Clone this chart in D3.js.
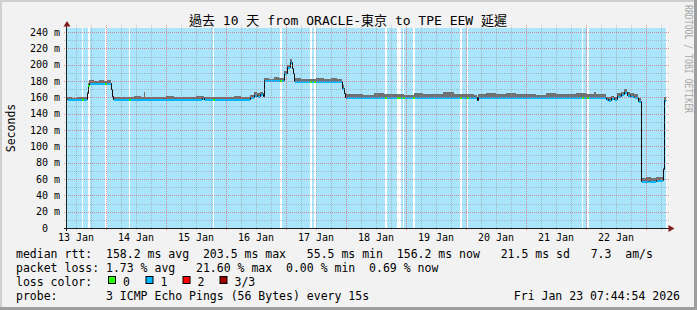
<!DOCTYPE html>
<html><head><meta charset="utf-8">
<script src="https://cdn.jsdelivr.net/npm/d3@7"></script>
<style>
html,body{margin:0;padding:0;background:#f2f2f2;}
svg{display:block;}
text{font-family:"DejaVu Sans Mono","Noto Sans CJK TC",monospace;fill:#000;white-space:pre;}
</style></head><body>
<svg id="c" width="697" height="310"></svg>
<script>
// ---------------- data ----------------
const title = "過去 10 天 from ORACLE-東京 to TPE EEW 延遲";
const yLabel = "Seconds";
const sideText = "RRDTOOL / TOBI OETIKER";
// hours since 2026-01-13 00:00
const startHour = 8.4, endHour = 248.4, dataEndHour = 248.0;
const yMax = 245;
const yTickValues = [0,20,40,60,80,100,120,140,160,180,200,220,240];
const dayLabels = ["13 Jan","14 Jan","15 Jan","16 Jan","17 Jan","18 Jan","19 Jan","20 Jan","21 Jan","22 Jan"];

// median rtt (ms), step series [hour, value]
const medianSteps = [
 [8.4,157.5],[16.2,165],[16.6,175],[17.0,177.5],[26.0,170],[26.4,162],[26.8,158],
 [62.4,159],[63.2,157.5],[81.6,160],[83.2,163],[84.4,162],[85.6,164],[86.8,162],[87.3,181],
 [95.2,190],[96.3,197],[97.6,203.5],[98.3,196],[98.9,190],[99.3,180],
 [118.5,172],[119.0,165],[119.6,161],[172.3,157],[172.7,161],
 [224.0,158],[224.8,157],[226.0,159],[227.2,158],[228.4,162],[230.0,164],[231.2,166],[232.4,163],
 [233.6,162],[235.2,161],[236.9,156],[238.0,58],[241.0,57.5],[244.0,58.5],[246.8,72],[247.3,156.2],[248.0,156.2]
];
// top of the smoke (max ping rtt), step series [hour, value]
const smokeTop = [
 [8.4,160],[10.5,159.5],[12.5,161],[14.3,160],[16.2,167],[16.6,178],[17.0,181],
 [19,180.5],[21,181.5],[23,180],[24.3,181],[26.0,172],[26.4,164],[26.8,160.5],
 [29,161],[32,160],[35,161.5],[38,160],[39.2,166],[39.6,160.5],[42,161],[45,160],[48,161.5],
 [51,160.5],[54,161],[57,160],[60,161.5],[62.4,162],[63.2,160.5],[66,160],[69,161],[72,160.5],
 [75,161.5],[78,160],[81.6,163],[83.2,166],[84.4,165],[85.6,167],[86.8,165],
 [87.3,184],[89,183],[91,184.5],[93,183.5],[95.2,192],[96.3,200],[97.6,207],[98.3,199],[98.9,193],[99.3,183.5],
 [102,183],[105,182.5],[108,184],[111,183],[114,183.5],[116.5,182.5],[118.5,175],[119.0,167],[119.6,164],
 [123,164.5],[127,163.5],[131,165],[135,164],[139,164.5],[143,163.5],[147,165],[151,164],[155,164.5],
 [159,166],[163,164],[167,164.5],[171,163.5],[172.3,160],[172.7,164],[176,165],[180,164],[184,165.5],
 [188,164],[192,164.5],[196,163.5],[200,165],[204,164],[208,164.5],[212,165],[216,164],[219.2,166.5],[220,164.5],
 [224.0,161],[224.8,160],[226.0,162],[227.2,161],[228.4,165],[230.0,167],[231.2,170],[232.4,167],[233.6,165],
 [235.2,164],[236.9,159],[238.0,61],[240,62],[242,61],[244,62],[246.8,74],[247.3,160],[248.0,160]
];
// periods with 0 packet loss [fromHour, toHour]
const zeroLoss = [
 [14.28,14.92],[16.92,17.6],[23.72,24.28],[33.08,33.6],[66.68,67.2],[93.6,94.4],[105.6,106.52],
 [107.32,107.88],[135.6,136.28],[140.28,141.08],[141.32,141.88],[142.68,143.2],[146.92,147.48],
 [165.6,166.28],[168.28,168.8],[214.28,214.92],[216.52,217.08]
];
const lossColors = [["0","#26ff00"],["1","#00b8ff"],["2","#ff0000"],["3/3","#a00000"]];
const rttLine  = "median rtt:  158.2 ms avg  203.5 ms max   55.5 ms min  156.2 ms now   21.5 ms sd   7.3  am/s";
const lossLine = "packet loss: 1.73 % avg   21.60 % max  0.00 % min  0.69 % now";
const lossColorLabel = "loss color:";
const probeLine = "probe:       3 ICMP Echo Pings (56 Bytes) every 15s";
const stamp = "Fri Jan 23 07:44:54 2026";

// ---------------- drawing ----------------
const W=697,H=310,L=67,R=667,T=28,B=228;
const BASE = Date.UTC(2026,0,13);
const toDate = h => new Date(BASE + h*3600e3);
const svg = d3.select("#c");
const x = d3.scaleUtc().domain([toDate(startHour),toDate(endHour)]).range([L,R]);
const y = d3.scaleLinear().domain([0,yMax]).range([B,T]);
const px = v => Math.round(v)+0.5;
const ry = v => Math.round(y(v));

svg.append("rect").attr("width",W).attr("height",H).attr("fill","#f2f2f2");
svg.append("rect").attr("x",0).attr("y",0).attr("width",W).attr("height",2).attr("fill","#cfcfcf");
svg.append("rect").attr("x",0).attr("y",0).attr("width",2).attr("height",H).attr("fill","#cfcfcf");
svg.append("rect").attr("x",W-3).attr("y",0).attr("width",3).attr("height",H).attr("fill","#9e9e9e");
svg.append("rect").attr("x",0).attr("y",H-3).attr("width",W).attr("height",3).attr("fill","#9e9e9e");

// canvas + loss background
svg.append("rect").attr("x",L).attr("y",T).attr("width",R-L).attr("height",B-T).attr("fill","#ffffff");
svg.append("rect").attr("x",L).attr("y",T).attr("width",x(toDate(dataEndHour))-L).attr("height",B-T).attr("fill","#aae5fb");
svg.append("g").attr("shape-rendering","crispEdges").selectAll("rect").data(zeroLoss).join("rect")
  .attr("x",d=>x(toDate(d[0]))).attr("width",d=>Math.max(1.5,x(toDate(d[1]))-x(toDate(d[0]))))
  .attr("y",T).attr("height",B-T).attr("fill","#ffffff");

// smoke
function stepVal(arr,h){let v=arr[0][1];for(const p of arr){if(p[0]<=h+1e-9)v=p[1];else break;}return v;}
const bps = Array.from(new Set(medianSteps.map(d=>d[0]).concat(smokeTop.map(d=>d[0])))).sort((a,b)=>a-b);
const smokeData = bps.map(h=>{const m=stepVal(medianSteps,h);return {h,lo:m,hi:Math.max(m,stepVal(smokeTop,h))};});
svg.append("path").datum(smokeData).attr("shape-rendering","crispEdges")
  .attr("d",d3.area().curve(d3.curveStepAfter).x(d=>Math.round(x(toDate(d.h)))).y0(d=>ry(d.lo)+1).y1(d=>ry(d.hi)))
  .attr("fill","#707070");

// median black step line
svg.append("path").datum(medianSteps)
  .attr("d",d3.line().curve(d3.curveStepAfter).x(d=>Math.round(x(toDate(d[0])))+0.5).y(d=>ry(d[1])+0.5))
  .attr("fill","none").attr("stroke","#111").attr("stroke-width",1);
// colored median segments
const segs = medianSteps.slice(0,-1).map((d,i)=>({h0:d[0],h1:medianSteps[i+1][0],v:d[1]}));
const segG = svg.append("g").attr("shape-rendering","crispEdges");
segG.selectAll(".b").data(segs).join("rect")
  .attr("x",d=>Math.round(x(toDate(d.h0)))+1).attr("width",d=>Math.max(0,Math.round(x(toDate(d.h1)))-Math.round(x(toDate(d.h0)))-1))
  .attr("y",d=>ry(d.v)).attr("height",2).attr("fill",lossColors[1][1]);
segG.selectAll(".g").data(zeroLoss).join("rect")
  .attr("x",d=>Math.round(x(toDate(d[0])))).attr("width",d=>Math.max(2,Math.round(x(toDate(d[1])))-Math.round(x(toDate(d[0])))))
  .attr("y",d=>ry(stepVal(medianSteps,d[0]))).attr("height",2).attr("fill",lossColors[0][1]);

// grid
const gGrid = svg.append("g").attr("shape-rendering","crispEdges");
const minorCol = "rgba(143,143,143,0.5)", majorCol = "rgba(222,79,79,0.6)";
const minorY = d3.range(10,yMax,20);
gGrid.selectAll(".hm").data(minorY).join("line")
  .attr("x1",64).attr("x2",670).attr("y1",d=>px(y(d))).attr("y2",d=>px(y(d)))
  .attr("stroke",minorCol).attr("stroke-dasharray","1,1");
const hours6 = d3.utcHour.every(6).range(toDate(startHour),toDate(endHour)).filter(d=>d.getUTCHours()!==0);
gGrid.selectAll(".vm").data(hours6).join("line")
  .attr("x1",d=>px(x(d))).attr("x2",d=>px(x(d))).attr("y1",25).attr("y2",231)
  .attr("stroke",minorCol).attr("stroke-dasharray","1,1");
gGrid.selectAll(".hM").data(yTickValues).join("line")
  .attr("x1",64).attr("x2",670).attr("y1",d=>px(y(d))).attr("y2",d=>px(y(d)))
  .attr("stroke",majorCol).attr("stroke-dasharray","1,1");
const days = d3.utcDay.range(toDate(startHour),toDate(endHour));
gGrid.selectAll(".vM").data(days).join("line")
  .attr("x1",d=>px(x(d))).attr("x2",d=>px(x(d))).attr("y1",25).attr("y2",231)
  .attr("stroke",majorCol).attr("stroke-dasharray","1,1");

// axes
const ax = svg.append("g").attr("shape-rendering","crispEdges");
ax.append("line").attr("x1",64).attr("x2",669).attr("y1",px(y(0))).attr("y2",px(y(0))).attr("stroke","#1f1f1f");
ax.append("line").attr("x1",66.5).attr("x2",66.5).attr("y1",231).attr("y2",25).attr("stroke","#1f1f1f");
svg.append("path").attr("d","M67,21 L70.5,26.5 L63.5,26.5 Z").attr("fill","#801f1f");
svg.append("path").attr("d","M674.5,228.5 L668.5,225 L668.5,232 Z").attr("fill","#801f1f");

// y labels
svg.append("g").selectAll("text").data(yTickValues).join("text")
  .attr("x",d=>d===0?48:60).attr("y",d=>y(d)).attr("dy","0.36em")
  .attr("text-anchor","end").attr("font-size",10)
  .text(d=>d===0?"0":d+" m");
// x labels at noon
const labelDates = dayLabels.map((s,i)=>toDate(12+24*i));
svg.append("g").selectAll("text").data(dayLabels).join("text")
  .attr("x",(d,i)=>x(labelDates[i])).attr("y",241).attr("text-anchor","middle").attr("font-size",10)
  .text(d=>d);

// title, y label, side text
svg.append("text").attr("x",348).attr("y",25).attr("text-anchor","middle").attr("font-size",13).text(title);
svg.append("text").attr("transform","translate(15,128) rotate(-90)").attr("text-anchor","middle")
  .attr("font-size",11.5).text(yLabel);
svg.append("text").attr("transform","translate(685,5) rotate(90)").attr("font-size",10)
  .style("fill","#a8a8a8").attr("textLength",108).attr("lengthAdjust","spacingAndGlyphs").text(sideText);

// legend
const lg = svg.append("g").attr("font-size",11.5);
lg.append("text").attr("x",16).attr("y",258).text(rttLine);
lg.append("text").attr("x",16).attr("y",272).text(lossLine);
lg.append("text").attr("x",16).attr("y",286).text(lossColorLabel);
const boxX=[108,145.5,182.5,219.5];
lossColors.forEach((c,i)=>{
  lg.append("rect").attr("x",boxX[i]+0.5).attr("y",276.5).attr("width",7).attr("height",7)
    .attr("fill",c[1]).attr("stroke","#000").attr("stroke-width",1);
  lg.append("text").attr("x",boxX[i]+15).attr("y",286).text(c[0]);
});
lg.append("text").attr("x",16).attr("y",300).text(probeLine);
lg.append("text").attr("x",680).attr("y",300).attr("text-anchor","end").text(stamp);
</script>
</body></html>
